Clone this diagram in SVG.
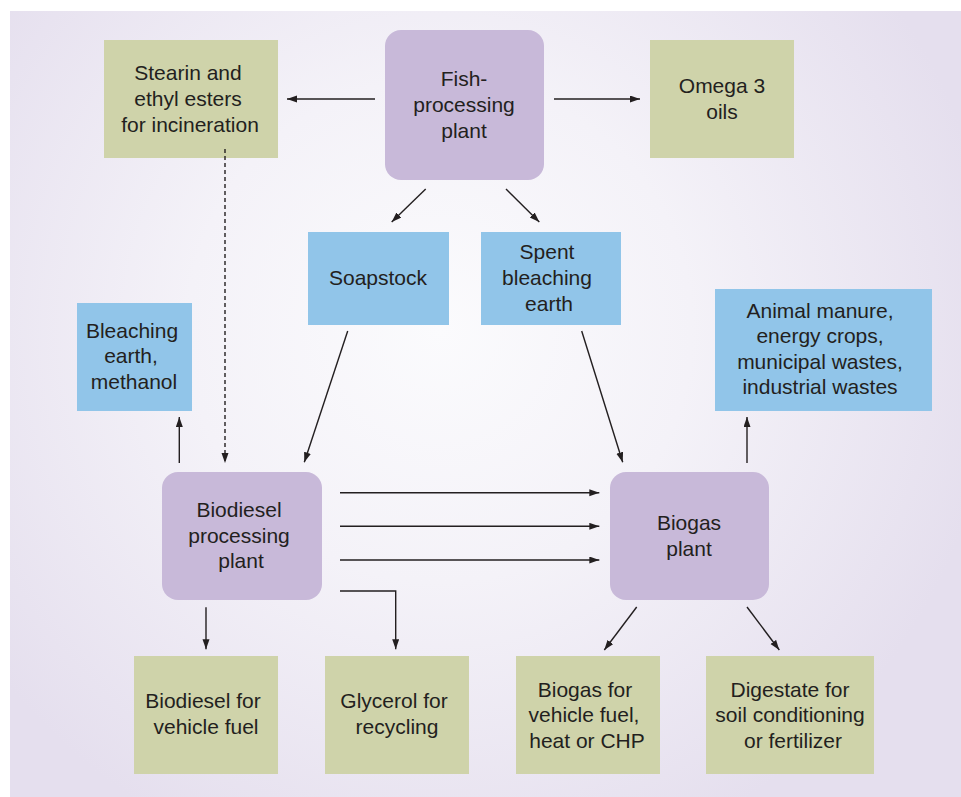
<svg xmlns="http://www.w3.org/2000/svg" width="961" height="797" viewBox="0 0 961 797">
<style>
text{font-family:"Liberation Sans",Arial,Helvetica,sans-serif;font-size:21px;fill:#231f20;text-anchor:middle}
.g{fill:#cfd3aa}
.b{fill:#91c5e9}
.p{fill:#c8b9d9}
.c{stroke:#231f20;stroke-width:1.4;fill:none;marker-end:url(#ah)}
</style>
<defs>
<radialGradient id="bg" cx="440" cy="330" r="560" gradientUnits="userSpaceOnUse">
<stop offset="0" stop-color="#fbfbfd"/>
<stop offset="0.45" stop-color="#f4f2f8"/>
<stop offset="1" stop-color="#e5dfee"/>
</radialGradient>
<marker id="ah" markerUnits="userSpaceOnUse" markerWidth="11" markerHeight="8" refX="10" refY="3.5" orient="auto">
<path d="M0,0 L10,3.5 L0,7 z" fill="#231f20"/>
</marker>
</defs>
<rect x="0" y="0" width="961" height="797" fill="#ffffff"/>
<rect x="10" y="11" width="951" height="786" fill="url(#bg)"/>

<g id="fish-plant"><rect class="p" x="385" y="30" width="159" height="150" rx="16"/>
<text x="464" y="86">Fish-</text><text x="464" y="112">processing</text><text x="464" y="138">plant</text></g>

<g id="stearin"><rect class="g" x="104" y="40" width="174" height="118"/>
<text x="188" y="80">Stearin and</text><text x="188" y="106">ethyl esters</text><text x="190" y="132">for incineration</text></g>

<g id="omega3"><rect class="g" x="650" y="40" width="144" height="118"/>
<text x="722" y="93">Omega 3</text><text x="722" y="119">oils</text></g>

<g id="soapstock"><rect class="b" x="308" y="232" width="141" height="93"/>
<text x="378" y="285">Soapstock</text></g>

<g id="spent-earth"><rect class="b" x="481" y="232" width="140" height="93"/>
<text x="547" y="259">Spent</text><text x="547" y="285">bleaching</text><text x="549" y="311">earth</text></g>

<g id="bleaching-methanol"><rect class="b" x="77" y="303" width="115" height="108"/>
<text x="132" y="338">Bleaching</text><text x="131" y="363">earth,</text><text x="134" y="389">methanol</text></g>

<g id="animal-manure"><rect class="b" x="715" y="289" width="217" height="122"/>
<text x="820" y="318">Animal manure,</text><text x="820" y="343">energy crops,</text><text x="820" y="369">municipal wastes,</text><text x="820" y="394">industrial wastes</text></g>

<g id="biodiesel-plant"><rect class="p" x="162" y="472" width="160" height="128" rx="16"/>
<text x="239" y="517">Biodiesel</text><text x="239" y="543">processing</text><text x="241" y="568">plant</text></g>

<g id="biogas-plant"><rect class="p" x="610" y="472" width="159" height="128" rx="16"/>
<text x="689" y="530">Biogas</text><text x="689" y="556">plant</text></g>

<g id="biodiesel-fuel"><rect class="g" x="134" y="656" width="144" height="118"/>
<text x="203" y="708">Biodiesel for</text><text x="206" y="734">vehicle fuel</text></g>

<g id="glycerol"><rect class="g" x="325" y="656" width="144" height="118"/>
<text x="394" y="708">Glycerol for</text><text x="397" y="734">recycling</text></g>

<g id="biogas-fuel"><rect class="g" x="516" y="656" width="144" height="118"/>
<text x="585" y="697">Biogas for</text><text x="584" y="722">vehicle fuel,</text><text x="587" y="748">heat or CHP</text></g>

<g id="digestate"><rect class="g" x="706" y="656" width="168" height="118"/>
<text x="790" y="697">Digestate for</text><text x="790" y="722">soil conditioning</text><text x="793" y="748">or fertilizer</text></g>

<g id="connectors">
<line class="c" x1="375" y1="99" x2="287" y2="99"/>
<line class="c" x1="554" y1="99" x2="640" y2="99"/>
<line class="c" x1="425.7" y1="189" x2="391.7" y2="222"/>
<line class="c" x1="506" y1="189" x2="539.3" y2="222"/>
<line class="c" x1="225" y1="149" x2="225" y2="463" stroke-dasharray="4,3"/>
<line class="c" x1="179.3" y1="463" x2="179.3" y2="417"/>
<line class="c" x1="347.7" y1="331" x2="304.3" y2="462.3"/>
<line class="c" x1="581.7" y1="331" x2="622.7" y2="462.3"/>
<line class="c" x1="340" y1="492.7" x2="599.3" y2="492.7"/>
<line class="c" x1="340" y1="526.3" x2="599.3" y2="526.3"/>
<line class="c" x1="340" y1="560" x2="599.3" y2="560"/>
<polyline class="c" points="340,591 395.7,591 395.7,649.3"/>
<line class="c" x1="206" y1="607.3" x2="206" y2="649.3"/>
<line class="c" x1="747" y1="463" x2="747" y2="417"/>
<line class="c" x1="636.7" y1="607" x2="604.3" y2="650"/>
<line class="c" x1="747" y1="607" x2="779.3" y2="650"/>
</g>
</svg>
